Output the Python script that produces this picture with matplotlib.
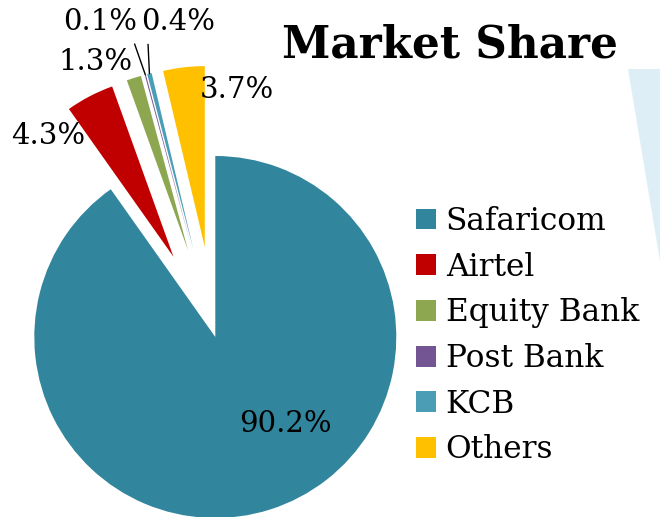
#!/usr/bin/env python3

import numpy as np
import matplotlib
matplotlib.use("Agg")
import matplotlib.pyplot as plt
from matplotlib.patches import Polygon


# -----------------------------
# Data
# -----------------------------
companies = ["Safaricom", "Airtel", "Equity Bank", "Post Bank", "KCB", "Others"]
shares = [90.2, 4.3, 1.3, 0.1, 0.4, 3.7]
pct_labels = ["90.2%", "4.3%", "1.3%", "0.1%", "0.4%", "3.7%"]

# -----------------------------
# Style / layout
# -----------------------------
COLORS = ["#31859C", "#C00000", "#8DA650", "#725592", "#4A9DB5", "#FFC000"]
EXPLODE_FRAC = [0, 0.5, 0.5, 0.5, 0.5, 0.5]

W, H = 660, 517
CENTER = (215.3, 337)      # pixel coords (y down)
RADIUS = 181

# label centres in pixels (y down)
LABEL_POS = [(285, 424), (48, 136), (95, 62), (100, 22), (178, 22), (237, 90)]
# where the leader line leaves the label (fraction of text box), None = no line
LEADER = [None, None, None, (0.93, 0.0), (0.09, 0.0), None]

FONT = "DejaVu Serif"


def px(x, y):
    # pixel coords (origin top-left) -> data coords
    return x, H - y


fig = plt.figure(figsize=(W / 100, H / 100), dpi=100)
ax = fig.add_axes([0, 0, 1, 1])

# decorative light blue shape at the right edge
ax.add_patch(Polygon([px(628, 69), px(662, 69), px(662, 273)],
                     closed=True, facecolor="#DDEEF7", edgecolor="none"))

# matplotlib explode is in data units -> scale by radius
explode = [f * RADIUS for f in EXPLODE_FRAC]

wedges, _ = ax.pie(shares,
                   colors=COLORS,
                   explode=explode,
                   startangle=90,
                   counterclock=False,
                   center=px(*CENTER),
                   radius=RADIUS,
                   wedgeprops=dict(linewidth=0))

ax.set_xlim(0, W)
ax.set_ylim(0, H)
ax.set_aspect("equal")
ax.axis("off")

# data labels
for w, lab, pos, lead in zip(wedges, pct_labels, LABEL_POS, LEADER):
    if lead is not None:
        mid = np.deg2rad((w.theta1 + w.theta2) / 2)
        tip = (w.center[0] + w.r * np.cos(mid), w.center[1] + w.r * np.sin(mid))
        ax.annotate(lab, xy=tip, xytext=px(*pos),
                    ha="center", va="center", fontsize=21, family=FONT,
                    arrowprops=dict(arrowstyle="-", color="black", lw=1,
                                    relpos=lead, shrinkA=4, shrinkB=0))
    else:
        ax.text(*px(*pos), lab, ha="center", va="center",
                fontsize=21, family=FONT)

# title
ax.text(*px(450, 45), "Market Share", ha="center", va="center",
        fontsize=31.5, fontweight="bold", family=FONT)

# legend
leg = ax.legend(wedges, companies,
                loc="upper left",
                bbox_to_anchor=(416 / W, 1 - 206 / H),
                frameon=False,
                prop=dict(family=FONT, size=22.5),
                handlelength=0.65, handleheight=0.65,
                handletextpad=0.3, labelspacing=0.47,
                borderaxespad=0, borderpad=0)

fig.savefig("out.png", dpi=100)
